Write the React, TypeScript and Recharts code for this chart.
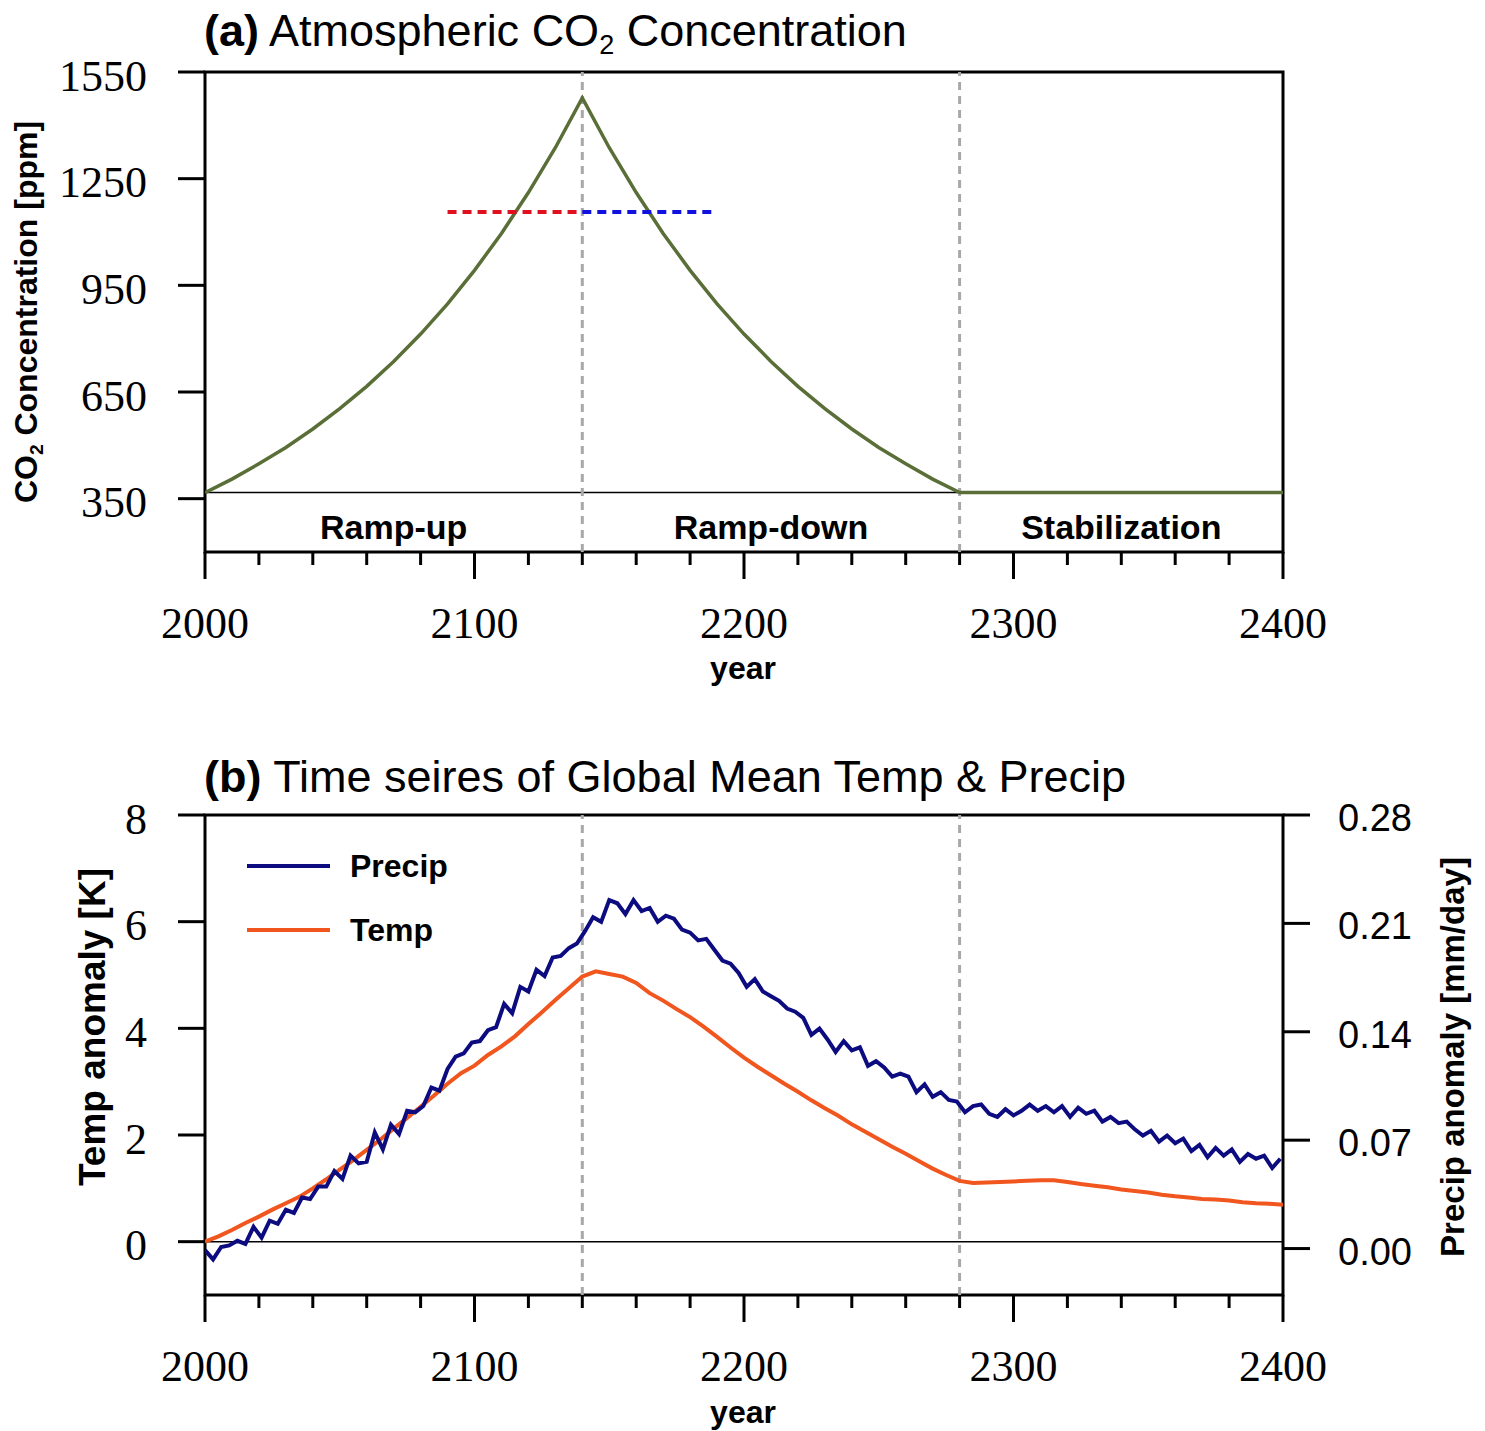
import {
  LineChart,
  Line,
  XAxis,
  YAxis,
  ReferenceLine,
  ReferenceArea,
  Legend,
} from 'recharts';

const SERIF = '"Liberation Serif", "Times New Roman", serif';
const SANS = '"Liberation Sans", Arial, Helvetica, sans-serif';

// (a) CO2 concentration [ppm], one value every 10 years from 2000
const CO2_PPM = [
  367, 405, 448, 494, 546, 603, 666, 736, 813, 898,
  992, 1096, 1211, 1337, 1477, 1337, 1211, 1096, 992, 898,
  813, 736, 666, 603, 546, 494, 448, 405, 367, 367,
  367, 367, 367, 367, 367, 367, 367, 367, 367, 367,
  367,
];
const CO2_YEARS = CO2_PPM.map((_, i) => 2000 + i * 10);

const BASE_PPM = 367;
const WINDOW_PPM = 1156;
const RAMP_UP_WINDOW = [2090, 2140];
const RAMP_DOWN_WINDOW = [2140, 2190];
const PHASE_BREAKS = [2140, 2280];
const PHASES = [
  { name: 'Ramp-up', from: 2000, to: 2140 },
  { name: 'Ramp-down', from: 2140, to: 2280 },
  { name: 'Stabilization', from: 2280, to: 2400 },
];

// (b) global mean temperature anomaly [K], every 5 years
const TEMP = [
  0.0, 0.1, 0.22, 0.35, 0.47, 0.6, 0.72, 0.84, 1.0, 1.17,
  1.35, 1.53, 1.72, 1.91, 2.12, 2.32, 2.53, 2.74, 2.96, 3.16,
  3.3, 3.5, 3.66, 3.85, 4.08, 4.3, 4.53, 4.75, 4.97, 5.07,
  5.02, 4.97, 4.85, 4.66, 4.52, 4.36, 4.21, 4.03, 3.84, 3.64,
  3.45, 3.28, 3.12, 2.96, 2.81, 2.65, 2.5, 2.36, 2.2, 2.06,
  1.92, 1.78, 1.65, 1.51, 1.37, 1.25, 1.14, 1.1, 1.11, 1.12,
  1.13, 1.14, 1.15, 1.15, 1.12, 1.08, 1.05, 1.02, 0.98, 0.95,
  0.92, 0.88, 0.85, 0.83, 0.8, 0.79, 0.77, 0.74, 0.72, 0.71,
  0.69,
];
const TEMP_YEARS = TEMP.map((_, i) => 2000 + i * 5);

// (b) global mean precipitation anomaly [mm/day], every 3 years
const PRECIP = [
  -0.001, -0.007, 0.001, 0.002, 0.005, 0.003, 0.014, 0.007, 0.018, 0.016,
  0.025, 0.023, 0.033, 0.032, 0.04, 0.04, 0.05, 0.045, 0.06, 0.055,
  0.056, 0.075, 0.064, 0.08, 0.074, 0.089, 0.088, 0.092, 0.104, 0.102,
  0.116, 0.124, 0.126, 0.133, 0.134, 0.141, 0.143, 0.158, 0.152, 0.169,
  0.166, 0.18, 0.176, 0.188, 0.189, 0.194, 0.197, 0.205, 0.214, 0.211,
  0.225, 0.223, 0.216, 0.225, 0.218, 0.22, 0.211, 0.215, 0.213, 0.206,
  0.204, 0.199, 0.2, 0.193, 0.186, 0.184, 0.178, 0.169, 0.174, 0.166,
  0.163, 0.16, 0.155, 0.153, 0.149, 0.138, 0.142, 0.135, 0.127, 0.134,
  0.128, 0.13, 0.118, 0.121, 0.117, 0.111, 0.113, 0.111, 0.101, 0.106,
  0.098, 0.101, 0.096, 0.095, 0.088, 0.092, 0.093, 0.087, 0.085, 0.09,
  0.086, 0.089, 0.093, 0.089, 0.092, 0.088, 0.092, 0.085, 0.091, 0.087,
  0.089, 0.082, 0.085, 0.081, 0.082, 0.077, 0.073, 0.076, 0.069, 0.073,
  0.068, 0.071, 0.063, 0.067, 0.059, 0.065, 0.06, 0.064, 0.056, 0.061,
  0.058, 0.06, 0.052, 0.058,
];
const PRECIP_YEARS = PRECIP.map((_, i) => 2000 + i * 3);

const YEAR_TICKS = Array.from({ length: 21 }, (_, i) => 2000 + i * 20);
const CO2_TICKS = [350, 650, 950, 1250, 1550];
const TEMP_TICKS = [0, 2, 4, 6, 8];
const PRECIP_TICKS = [0, 0.07, 0.14, 0.21, 0.28];

const SERIES = [
  { key: 'precip', name: 'Precip', color: '#0c0c80' },
  { key: 'temp', name: 'Temp', color: '#f0561e' },
];

const co2Data = CO2_YEARS.map((year, i) => ({ year, co2: CO2_PPM[i] }));
const upData = RAMP_UP_WINDOW.map((year) => ({ year, co2: WINDOW_PPM }));
const downData = RAMP_DOWN_WINDOW.map((year) => ({ year, co2: WINDOW_PPM }));
const tempData = TEMP_YEARS.map((year, i) => ({ year, temp: TEMP[i] }));
const precipData = PRECIP_YEARS.map((year, i) => ({ year, precip: PRECIP[i] }));

// 아래쪽 눈금: 100년마다 긴 눈금 + 라벨, 20년마다 짧은 눈금
const YearTick = ({ x, y, payload }: any) => {
  const major = payload.value % 100 === 0;
  return (
    <g>
      <line x1={x} x2={x} y1={y} y2={y + (major ? 27 : 13)} stroke="#000" strokeWidth={3} />
      {major && (
        <text x={x} y={y + 71} textAnchor="middle" dominantBaseline="central"
          fontFamily={SERIF} fontSize={44} fill="#000">
          {payload.value}
        </text>
      )}
    </g>
  );
};

const LeftTick = ({ x, y, payload }: any) => (
  <g>
    <line x1={x} x2={x - 27} y1={y} y2={y} stroke="#000" strokeWidth={3} />
    <text x={x - 58} y={y + 4} textAnchor="end" dominantBaseline="central"
      fontFamily={SERIF} fontSize={44} fill="#000">
      {payload.value}
    </text>
  </g>
);

const RightTick = ({ x, y, payload }: any) => (
  <g>
    <line x1={x} x2={x + 27} y1={y} y2={y} stroke="#000" strokeWidth={3} />
    <text x={x + 55} y={y + 3} textAnchor="start" dominantBaseline="central"
      fontFamily={SANS} fontSize={38} fill="#000">
      {Number(payload.value).toFixed(2)}
    </text>
  </g>
);

const PhaseLabel = ({ viewBox, text }: any) => (
  <text x={viewBox.x + viewBox.width / 2} y={viewBox.y + viewBox.height / 2 + 5}
    textAnchor="middle" dominantBaseline="central" fontFamily={SANS}
    fontWeight="bold" fontSize={34} fill="#000">
    {text}
  </text>
);

const LegendBox = () => (
  <div style={{ fontFamily: SANS, fontWeight: 'bold', fontSize: 32, color: '#000' }}>
    {SERIES.map((s) => (
      <div key={s.key} style={{ display: 'flex', alignItems: 'center', height: 64 }}>
        <svg width={83} height={8}>
          <line x1={0} x2={83} y1={4} y2={4} stroke={s.color} strokeWidth={4} />
        </svg>
        <span style={{ marginLeft: 20, lineHeight: 1 }}>{s.name}</span>
      </div>
    ))}
  </div>
);

const Title = ({ top, tag, children }: any) => (
  <div style={{
    position: 'absolute', left: 204, top, fontFamily: SANS, fontSize: 45,
    lineHeight: 1, whiteSpace: 'nowrap', color: '#000',
  }}>
    <b>{tag}</b> {children}
  </div>
);

const AxisTitle = ({ cx, cy, rotate, size = 32, children }: any) => (
  <div style={{
    position: 'absolute', left: cx, top: cy, fontFamily: SANS, fontWeight: 'bold',
    fontSize: size, lineHeight: 1, whiteSpace: 'nowrap', color: '#000',
    transform: `translate(-50%, -50%)${rotate ? ' rotate(-90deg)' : ''}`,
  }}>
    {children}
  </div>
);

const sub = { fontSize: '0.6em', verticalAlign: '-0.3em' };

export default function App() {
  return (
    <div style={{ position: 'absolute', left: 0, top: 0, width: 1485, height: 1431, background: '#fff' }}>
      {/* (a) CO2 농도 */}
      <div style={{ position: 'absolute', left: 0, top: 0 }}>
        <LineChart width={1485} height={700} margin={{ top: 72, right: 202, bottom: 0, left: 0 }}>
          <XAxis type="number" dataKey="year" domain={[2000, 2400]} ticks={YEAR_TICKS} interval={0}
            height={148} axisLine={false} tickLine={false} tickSize={0} tickMargin={0}
            tick={YearTick} allowDataOverflow />
          <YAxis type="number" domain={[200, 1550]} ticks={CO2_TICKS} interval={0} width={205}
            axisLine={false} tickLine={false} tickSize={0} tickMargin={0} tick={LeftTick}
            allowDataOverflow />
          <ReferenceLine y={BASE_PPM} stroke="#000" strokeWidth={1.5} />
          {PHASE_BREAKS.map((yr) => (
            <ReferenceLine key={yr} x={yr} stroke="#a8a8a8" strokeWidth={3} strokeDasharray="8 6" />
          ))}
          {PHASES.map((p) => (
            <ReferenceArea key={p.name} x1={p.from} x2={p.to} y1={200} y2={BASE_PPM}
              fill="none" stroke="none" label={<PhaseLabel text={p.name} />} />
          ))}
          <Line data={co2Data} dataKey="co2" type="linear" stroke="#5a6e38" strokeWidth={3.5}
            dot={false} isAnimationActive={false} />
          <Line data={upData} dataKey="co2" type="linear" stroke="#e0101e" strokeWidth={4}
            strokeDasharray="9 6" dot={false} isAnimationActive={false} />
          <Line data={downData} dataKey="co2" type="linear" stroke="#1010e0" strokeWidth={4}
            strokeDasharray="9 6" dot={false} isAnimationActive={false} />
          <ReferenceArea x1={2000} x2={2400} y1={200} y2={1550} fill="none" stroke="#000" strokeWidth={3} />
        </LineChart>
      </div>

      {/* (b) 기온/강수 시계열 */}
      <div style={{ position: 'absolute', left: 0, top: 715 }}>
        <LineChart width={1485} height={716} margin={{ top: 100, right: 0, bottom: 0, left: 0 }}>
          <XAxis type="number" dataKey="year" domain={[2000, 2400]} ticks={YEAR_TICKS} interval={0}
            height={136} axisLine={false} tickLine={false} tickSize={0} tickMargin={0}
            tick={YearTick} allowDataOverflow />
          <YAxis yAxisId="temp" type="number" domain={[-1, 8]} ticks={TEMP_TICKS} interval={0}
            width={205} axisLine={false} tickLine={false} tickSize={0} tickMargin={0}
            tick={LeftTick} allowDataOverflow />
          <YAxis yAxisId="precip" orientation="right" type="number" domain={[-0.03, 0.28]}
            ticks={PRECIP_TICKS} interval={0} width={202} axisLine={false} tickLine={false}
            tickSize={0} tickMargin={0} tick={RightTick} allowDataOverflow />
          <ReferenceLine yAxisId="temp" y={0} stroke="#000" strokeWidth={1.5} />
          {PHASE_BREAKS.map((yr) => (
            <ReferenceLine key={yr} yAxisId="temp" x={yr} stroke="#a8a8a8" strokeWidth={3}
              strokeDasharray="8 6" />
          ))}
          <Line yAxisId="temp" data={tempData} dataKey="temp" name="Temp" type="linear"
            stroke={SERIES[1].color} strokeWidth={4} dot={false} isAnimationActive={false} />
          <Line yAxisId="precip" data={precipData} dataKey="precip" name="Precip" type="linear"
            stroke={SERIES[0].color} strokeWidth={4} dot={false} isAnimationActive={false} />
          <ReferenceArea yAxisId="temp" x1={2000} x2={2400} y1={-1} y2={8} fill="none"
            stroke="#000" strokeWidth={3} />
          <Legend layout="horizontal" verticalAlign="middle" align="center" content={LegendBox}
            wrapperStyle={{ left: 247, top: 119, width: 300, height: 130 }} />
        </LineChart>
      </div>

      <Title top={8} tag="(a)">
        Atmospheric CO<span style={sub}>2</span> Concentration
      </Title>
      <Title top={754} tag="(b)">Time seires of Global Mean Temp &amp; Precip</Title>

      <AxisTitle cx={28} cy={312} rotate>
        CO<span style={sub}>2</span> Concentration [ppm]
      </AxisTitle>
      <AxisTitle cx={743} cy={668}>year</AxisTitle>
      <AxisTitle cx={92} cy={1027} rotate size={37}>Temp anomaly [K]</AxisTitle>
      <AxisTitle cx={1452} cy={1057} rotate size={33}>Precip anomaly [mm/day]</AxisTitle>
      <AxisTitle cx={743} cy={1412}>year</AxisTitle>
    </div>
  );
}
